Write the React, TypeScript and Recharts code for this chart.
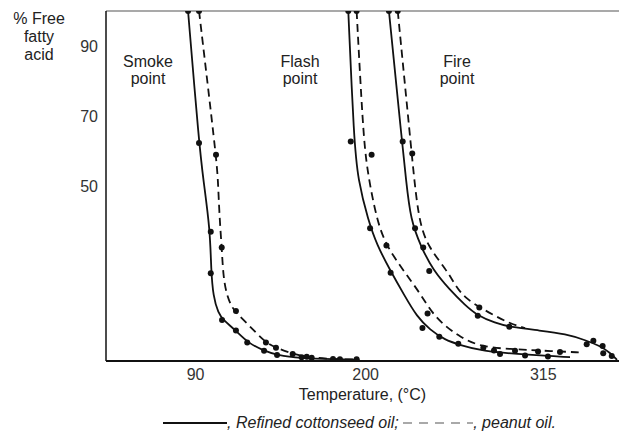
import React from 'react';
import { ComposedChart, Line, ReferenceLine, Scatter, XAxis, YAxis } from 'recharts';

const FONT = '"Liberation Sans", Arial, Helvetica, sans-serif';
const INK = '#111';

const TEMP_TICKS = [90, 200, 315];
const FFA_TICKS = [50, 70, 90];

// [temperature °C, % free fatty acid]
// smoke point
const SMOKE_COTTON_CURVE: [number, number][] = [
  [85.1, 100], [92.2, 62.3], [95.0, 51.7], [99.4, 37.5], [100.0, 26.0], [101.4, 18.4],
  [104.7, 13.6], [107.9, 11.7], [116.1, 8.7], [123.4, 5.3], [134.3, 2.9], [142.5, 1.7],
  [157.5, 0.8], [180.0, 0.5], [196.0, 0.4],
];
const SMOKE_COTTON_DOTS: [number, number][] = [
  [85.1, 100], [92.2, 62.3], [99.8, 36.9], [99.8, 25.1], [107.1, 11.7], [116.1, 8.7],
  [123.4, 5.3], [134.3, 2.9], [142.7, 1.7], [158.6, 1.1], [178.9, 0.6], [194.2, 0.5],
];
const SMOKE_PEANUT_CURVE: [number, number][] = [
  [92.2, 100], [103.2, 58.9], [104.5, 51.7], [105.3, 42.2], [106.9, 32.4], [107.9, 24.1],
  [110.1, 18.9], [113.3, 15.5], [116.4, 13.7], [123.1, 10.8], [129.5, 7.9], [135.5, 5.3],
  [142.0, 3.8], [152.8, 2.0], [165.1, 0.9], [183.4, 0.5], [195.1, 0.4],
];
const SMOKE_PEANUT_DOTS: [number, number][] = [
  [92.2, 100], [103.2, 58.9], [106.9, 32.4], [116.1, 14.3], [135.5, 5.3], [142.0, 3.8],
  [152.8, 2.0], [161.9, 1.2], [165.1, 0.9], [183.4, 0.5],
];

// flash point
const FLASH_COTTON_CURVE: [number, number][] = [
  [188.8, 100], [192.5, 62.9], [195.1, 51.7], [201.6, 40.3], [207.4, 33.1], [215.8, 26.0],
  [224.9, 18.9], [233.3, 12.6], [241.7, 8.9], [251.4, 6.0], [261.1, 4.6], [274.0, 2.9],
  [306.4, 1.7], [332.3, 1.1],
];
const FLASH_COTTON_DOTS: [number, number][] = [
  [188.8, 100], [190.4, 62.7], [202.9, 37.9], [216.2, 25.2], [236.8, 9.4], [247.7, 6.9],
  [260.0, 4.9], [287.0, 2.0], [303.2, 1.6], [318.0, 1.3],
];
const FLASH_PEANUT_CURVE: [number, number][] = [
  [194.2, 100], [198.3, 66.0], [200.9, 54.6], [207.2, 40.3], [213.2, 33.1], [224.2, 26.0],
  [235.2, 19.4], [243.0, 13.7], [251.4, 10.0], [261.1, 6.9], [274.0, 4.1], [293.5, 3.4],
  [312.9, 3.0], [340.7, 2.4],
];
const FLASH_PEANUT_DOTS: [number, number][] = [
  [194.2, 100], [203.9, 58.9], [213.5, 33.0], [240.1, 13.6], [276.2, 3.8], [283.1, 3.0],
  [296.7, 2.9], [311.6, 2.7], [325.8, 2.6],
];

// fire point
const FIRE_COTTON_CURVE: [number, number][] = [
  [215.1, 100], [223.5, 62.9], [226.2, 51.7], [229.1, 40.3], [235.9, 32.6], [243.6, 26.0],
  [254.6, 20.3], [264.3, 16.0], [272.7, 12.9], [283.8, 10.9], [293.5, 9.7], [312.9, 8.7],
  [329.7, 7.7], [342.0, 6.0], [351.7, 4.3], [358.2, 2.4], [362.7, 0.3],
];
const FIRE_COTTON_DOTS: [number, number][] = [
  [215.1, 100], [224.0, 62.7], [232.0, 37.9], [241.2, 25.7], [272.6, 12.9], [293.0, 9.8],
  [343.1, 4.8], [353.8, 2.2], [359.3, 1.4],
];
const FIRE_PEANUT_CURVE: [number, number][] = [
  [220.8, 100], [229.8, 59.4], [234.1, 40.3], [240.4, 32.6], [252.5, 26.0], [257.9, 21.7],
  [264.3, 18.0], [274.0, 15.3], [283.8, 12.9], [293.5, 10.7], [303.2, 9.4],
];
const FIRE_PEANUT_DOTS: [number, number][] = [
  [220.8, 100], [230.2, 59.3], [237.3, 32.4], [273.6, 15.3], [347.4, 5.8], [353.4, 4.3],
];

const toRows = (pts: [number, number][]) => pts.map(([t, v]) => ({ t, v }));

const SERIES = [
  { id: 'smoke-cotton', curve: SMOKE_COTTON_CURVE, dots: SMOKE_COTTON_DOTS, dashed: false },
  { id: 'smoke-peanut', curve: SMOKE_PEANUT_CURVE, dots: SMOKE_PEANUT_DOTS, dashed: true },
  { id: 'flash-cotton', curve: FLASH_COTTON_CURVE, dots: FLASH_COTTON_DOTS, dashed: false },
  { id: 'flash-peanut', curve: FLASH_PEANUT_CURVE, dots: FLASH_PEANUT_DOTS, dashed: true },
  { id: 'fire-cotton', curve: FIRE_COTTON_CURVE, dots: FIRE_COTTON_DOTS, dashed: false },
  { id: 'fire-peanut', curve: FIRE_PEANUT_CURVE, dots: FIRE_PEANUT_DOTS, dashed: true },
];

const DotShape = (props: any) => (
  <circle cx={props.cx} cy={props.cy} r={3} fill={INK} />
);

const textStyle: React.CSSProperties = {
  position: 'absolute',
  fontFamily: FONT,
  fontSize: 16,
  lineHeight: '17px',
  color: '#222',
  textAlign: 'center',
  whiteSpace: 'nowrap',
};

const RegionLabel = ({ x, children }: { x: number; children: React.ReactNode }) => (
  <div style={{ ...textStyle, left: x - 40, width: 80, top: 53 }}>{children}</div>
);

export default function App() {
  return (
    <div style={{ position: 'absolute', left: 0, top: 0, width: 619, height: 432, background: '#fff' }}>
      <ComposedChart width={619} height={432} margin={{ top: 11, right: 0, bottom: 0, left: 46 }}>
        <XAxis
          type="number"
          dataKey="t"
          domain={[32, 364]}
          ticks={TEMP_TICKS}
          allowDataOverflow
          height={71}
          tickLine={false}
          axisLine={{ stroke: INK, strokeWidth: 2 }}
          tick={{ fontSize: 16, fill: '#333', fontFamily: FONT }}
          label={{
            value: 'Temperature, (°C)',
            position: 'insideTop',
            offset: 28,
            fontSize: 16,
            fill: '#222',
            fontFamily: FONT,
          }}
        />
        <YAxis
          type="number"
          dataKey="v"
          domain={[0, 100]}
          ticks={FFA_TICKS}
          allowDataOverflow
          width={60}
          tickLine={false}
          axisLine={{ stroke: INK, strokeWidth: 1.5 }}
          tick={{ fontSize: 16, fill: '#333', fontFamily: FONT }}
        />
        <ReferenceLine y={100} stroke="#8c8c8c" strokeWidth={1.5} />
        {SERIES.map((s) => (
          <Line
            key={s.id}
            data={toRows(s.curve)}
            dataKey="v"
            type="basis"
            stroke={INK}
            strokeWidth={1.8}
            strokeDasharray={s.dashed ? '8 5' : undefined}
            dot={false}
            activeDot={false}
            isAnimationActive={false}
          />
        ))}
        {SERIES.map((s) => (
          <Scatter
            key={`${s.id}-dots`}
            data={toRows(s.dots)}
            dataKey="v"
            shape={DotShape}
            isAnimationActive={false}
          />
        ))}
      </ComposedChart>

      <div style={{ ...textStyle, left: 0, width: 78, top: 10, lineHeight: '18px' }}>
        % Free
        <br />
        fatty
        <br />
        acid
      </div>
      <RegionLabel x={148}>
        Smoke
        <br />
        point
      </RegionLabel>
      <RegionLabel x={300}>
        Flash
        <br />
        point
      </RegionLabel>
      <RegionLabel x={457}>
        Fire
        <br />
        point
      </RegionLabel>

      <div
        style={{
          ...textStyle,
          left: 0,
          width: 619,
          top: 414,
          display: 'flex',
          justifyContent: 'center',
          alignItems: 'center',
          fontStyle: 'italic',
          paddingLeft: 100,
          boxSizing: 'border-box',
        }}
      >
        <svg width={64} height={8}>
          <line x1={0} y1={4} x2={64} y2={4} stroke={INK} strokeWidth={1.8} />
        </svg>
        <span>, Refined cottonseed oil;&nbsp;</span>
        <svg width={70} height={8}>
          <line x1={0} y1={4} x2={70} y2={4} stroke="#555" strokeWidth={1.2} strokeDasharray="9 7" />
        </svg>
        <span>, peanut oil.</span>
      </div>
    </div>
  );
}
